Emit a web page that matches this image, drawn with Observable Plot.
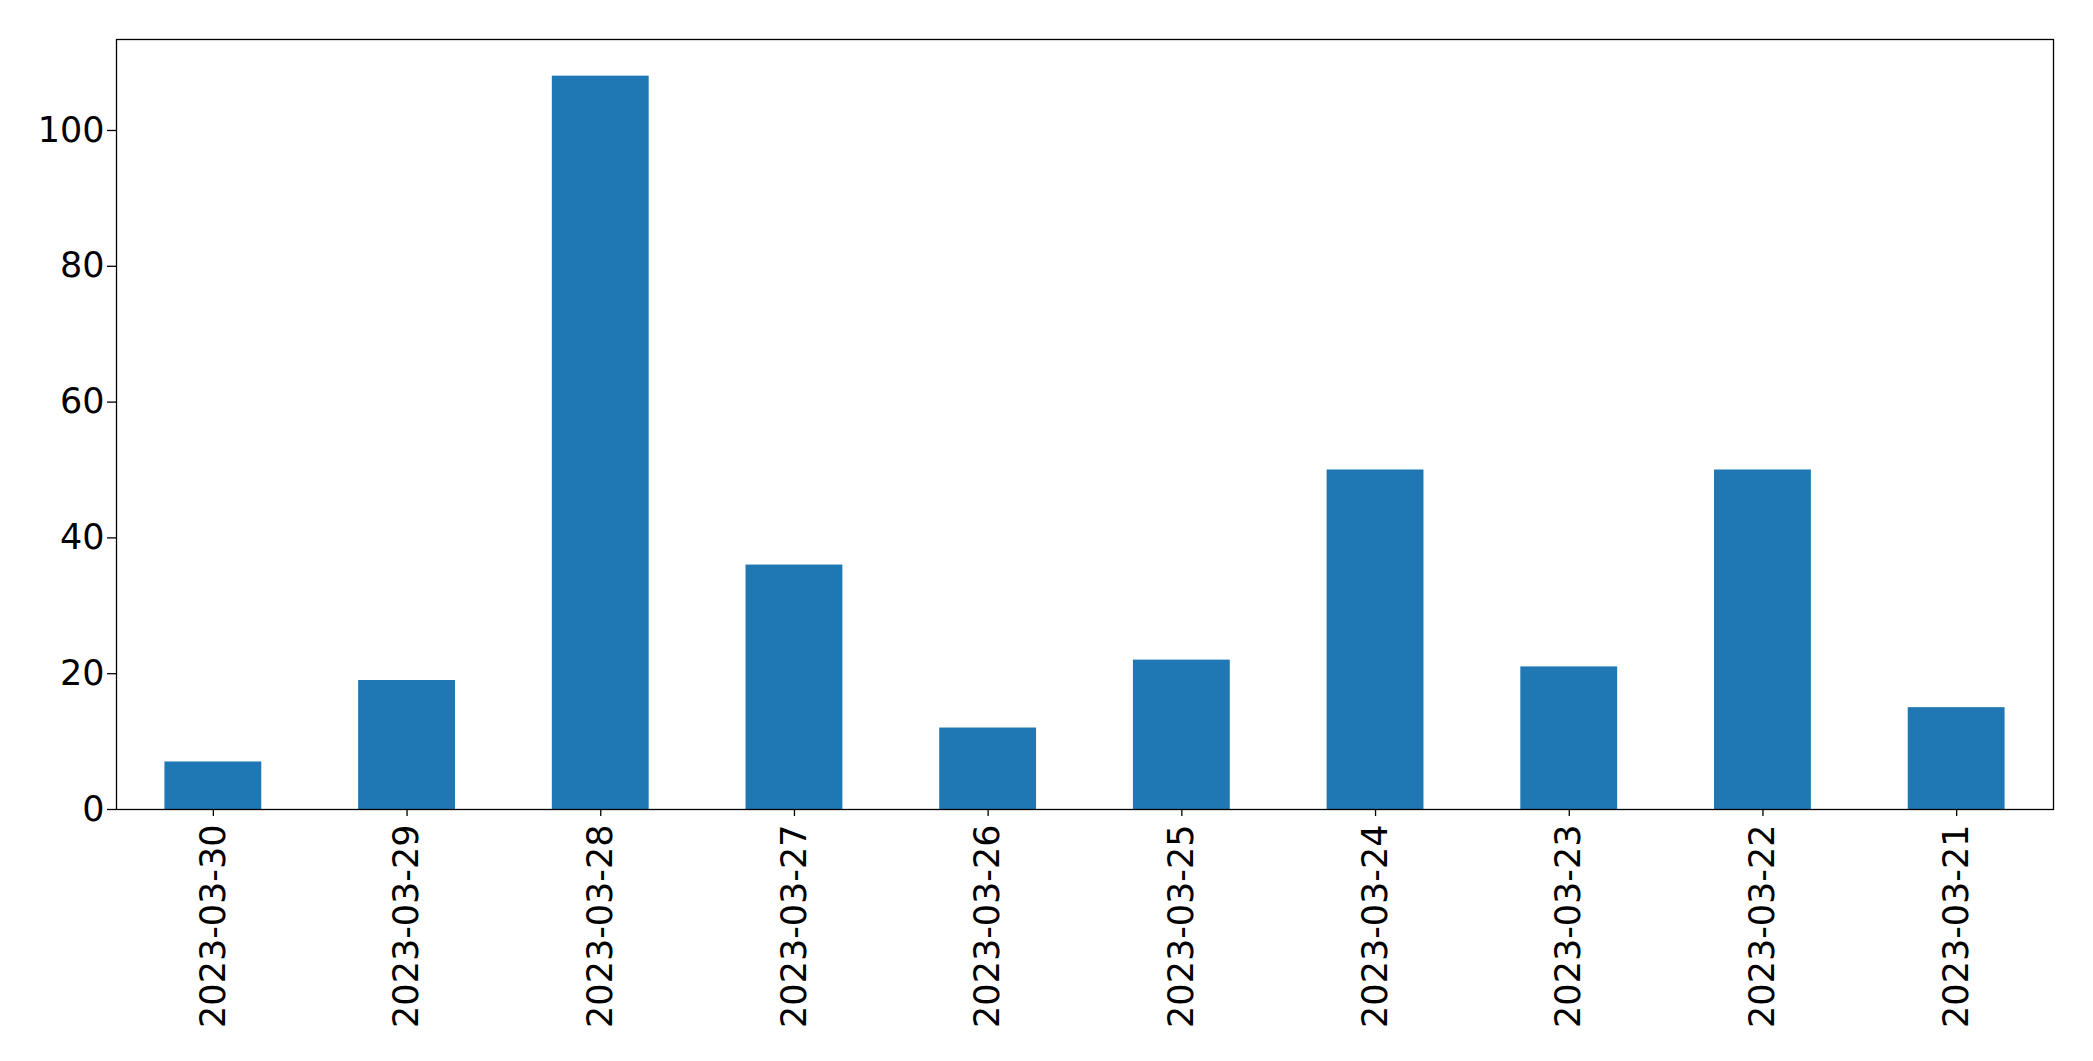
<!DOCTYPE html>
<html>
<head>
<meta charset="utf-8">
<script src="https://cdn.jsdelivr.net/npm/d3@7"></script>
<script src="https://cdn.jsdelivr.net/npm/@observablehq/plot@0.6"></script>
<style>
  html, body { margin: 0; padding: 0; background: #fff; }
  #chart svg { display: block; }
</style>
</head>
<body>
<div id="chart"></div>
<script>
const dates = ["2023-03-30","2023-03-29","2023-03-28","2023-03-27","2023-03-26","2023-03-25","2023-03-24","2023-03-23","2023-03-22","2023-03-21"];
const counts = [7, 19, 108, 36, 12, 22, 50, 21, 50, 15];
const yTicks = [0, 20, 40, 60, 80, 100];

const data = dates.map((d, i) => ({date: d, count: counts[i]}));
const yMax = d3.max(counts) * 1.05;

const chart = Plot.plot({
  width: 2093,
  height: 1061,
  marginLeft: 116,
  marginRight: 40,
  marginTop: 39,
  marginBottom: 252,
  style: {fontFamily: "'DejaVu Sans', sans-serif", fontSize: "35px", color: "#000", background: "#fff"},
  x: {domain: dates, paddingInner: 0.5, paddingOuter: 0.25, align: 0.5, round: false, label: null},
  y: {domain: [0, yMax], label: null},
  marks: [
    Plot.barY(data, {x: "date", y: "count", fill: "#1f77b4"}),
    Plot.axisY({ticks: yTicks, tickSize: 9, tickPadding: 3, fontSize: 35, stroke: "#000", strokeWidth: 1.3, label: null}),
    Plot.axisX({tickSize: 7, tickPadding: 8, tickRotate: -90, fontSize: 35, stroke: "#000", strokeWidth: 1.3, label: null}),
    Plot.frame({stroke: "#000", strokeWidth: 1.3})
  ]
});
document.getElementById("chart").appendChild(chart);
</script>
</body>
</html>
